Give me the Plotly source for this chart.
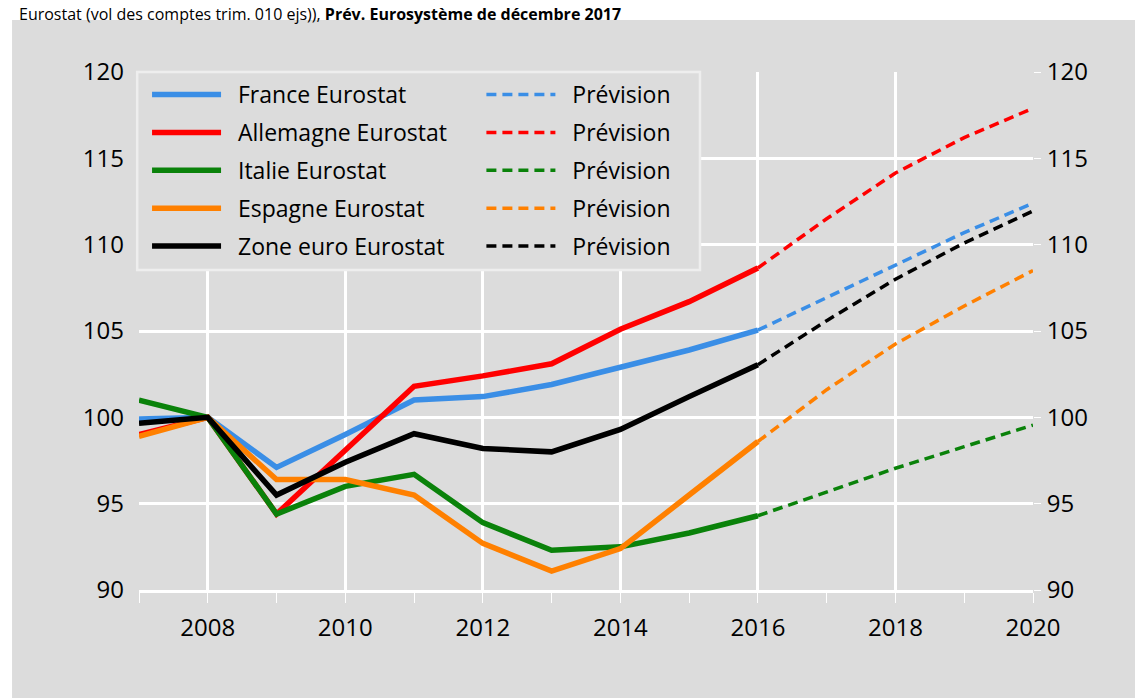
import plotly.graph_objects as go

years = [2007, 2008, 2009, 2010, 2011, 2012, 2013, 2014, 2015, 2016]
years_prev = [2016, 2017, 2018, 2019, 2020]

france = [99.9, 100.0, 97.1, 99.0, 101.0, 101.2, 101.9, 102.9, 103.9, 105.05]
allemagne = [99.0, 100.0, 94.4, 98.1, 101.8, 102.4, 103.1, 105.1, 106.7, 108.65]
italie = [101.0, 100.0, 94.4, 96.0, 96.7, 93.9, 92.3, 92.5, 93.3, 94.3]
espagne = [98.9, 100.0, 96.4, 96.4, 95.5, 92.7, 91.1, 92.4, 95.5, 98.6]
zone_euro = [99.65, 100.0, 95.5, 97.4, 99.05, 98.2, 98.0, 99.3, 101.2, 103.05]

france_prev = [105.05, 106.95, 108.8, 110.7, 112.4]
allemagne_prev = [108.65, 111.5, 114.15, 116.2, 117.9]
italie_prev = [94.3, 95.7, 97.05, 98.3, 99.55]
espagne_prev = [98.6, 101.6, 104.25, 106.45, 108.5]
zone_euro_prev = [103.05, 105.6, 108.0, 110.1, 111.95]

series = [
    ("France Eurostat", france, france_prev, "#3a8ee6"),
    ("Allemagne Eurostat", allemagne, allemagne_prev, "#ff0000"),
    ("Italie Eurostat", italie, italie_prev, "#0a820a"),
    ("Espagne Eurostat", espagne, espagne_prev, "#ff8000"),
    ("Zone euro Eurostat", zone_euro, zone_euro_prev, "#000000"),
]

x_ticks = [2008, 2010, 2012, 2014, 2016, 2018, 2020]
y_ticks = [90, 95, 100, 105, 110, 115, 120]

FONT = "Open Sans"
GRAY = "#dcdcdc"
PAD = "\u00a0\u00a0"

fig = go.Figure()
for i, (name, hist, prev, color) in enumerate(series):
    fig.add_trace(go.Scatter(x=years, y=hist, mode="lines", name=PAD + name,
                             legend="legend", legendgroup="h%d" % i,
                             line=dict(color=color, width=5.5)))
    fig.add_trace(go.Scatter(x=years_prev, y=prev, mode="lines", name=PAD + "Prévision",
                             legend="legend2", legendgroup="p%d" % i,
                             line=dict(color=color, width=3.5, dash="10px,6px")))

# invisible trace to carry the right-hand axis
fig.add_trace(go.Scatter(x=[years[0]], y=[france[0]], yaxis="y2", mode="markers",
                         marker=dict(opacity=0), showlegend=False, hoverinfo="skip"))

legend_common = dict(orientation="v", yanchor="top", xanchor="left", y=0.998,
                     bgcolor="rgba(0,0,0,0)", borderwidth=0, itemwidth=69,
                     tracegroupgap=5, font=dict(family=FONT, size=23))

fig.update_layout(
    width=1135, height=698,
    margin=dict(l=139, r=102, t=72, b=108),
    paper_bgcolor="white",
    plot_bgcolor=GRAY,
    font=dict(family=FONT, size=24, color="black"),
    xaxis=dict(range=[2007, 2020], tickvals=x_ticks, showgrid=True, gridcolor="white",
               gridwidth=3, showline=True, linecolor="white", linewidth=3,
               ticks="outside", ticklen=10, tickcolor="white", tickwidth=1,
               ticklabelstandoff=4, zeroline=False,
               minor=dict(dtick=1, ticks="outside", ticklen=10, tickcolor="white", showgrid=False)),
    yaxis=dict(range=[90, 120], tickvals=y_ticks, showgrid=True, gridcolor="white",
               gridwidth=3, showline=False, zeroline=False, ticks="", ticklabelstandoff=14),
    yaxis2=dict(range=[90, 120], tickvals=y_ticks, overlaying="y", side="right",
                showgrid=False, zeroline=False, ticks="outside", ticklen=7,
                tickcolor="white", ticklabelstandoff=1),
    legend=dict(x=0.009, **legend_common),
    legend2=dict(x=0.383, **legend_common),
    showlegend=True,
)

# gray panel around the chart
fig.add_shape(type="rect", xref="paper", yref="paper", x0=-0.142, x1=1.2, y0=-0.3, y1=1.1004,
              fillcolor=GRAY, line=dict(width=0), layer="below")
# legend box
fig.add_shape(type="rect", xref="paper", yref="paper", x0=-0.002, x1=0.6275, y0=0.618, y1=1.0,
              fillcolor=GRAY, line=dict(color="#eeeeee", width=2.5), layer="above")
# reference line at 100
fig.add_shape(type="line", xref="paper", yref="y", x0=0, x1=1, y0=100, y1=100,
              line=dict(color="black", width=1.5), layer="between")

fig.add_annotation(xref="paper", yref="paper", x=-0.136, y=1.137, xanchor="left", yanchor="top",
                   text="Eurostat (vol des comptes trim. 010 ejs)), <b>Prév. Eurosystème de décembre 2017</b>",
                   showarrow=False, font=dict(family=FONT, size=16, color="black"))

fig.write_html("out.html", config={"displayModeBar": False},
               post_script="document.body.style.margin='0';")
